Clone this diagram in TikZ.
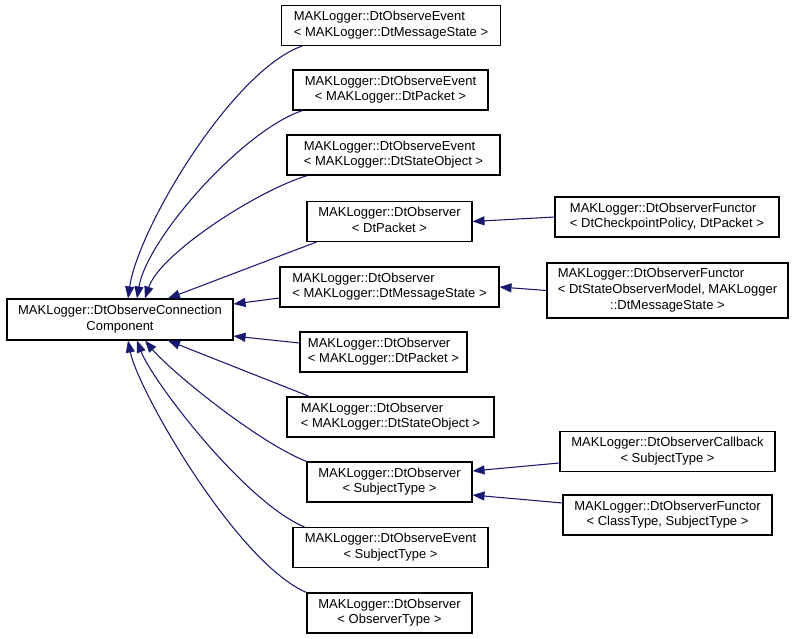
\documentclass[tikz,border=0pt]{standalone}
\usepackage{fontspec}
\setmainfont{Liberation Sans}
\usetikzlibrary{arrows.meta}
\definecolor{edgeblue}{RGB}{25,25,112}
% class name: first lines flush left, last line centred
\newcommand{\clsname}[2]{\begin{tabular}{@{}c@{}}\multicolumn{1}{@{}l@{}}{#1}\\#2\end{tabular}}
\newcommand{\clsnamelong}[3]{\begin{tabular}{@{}c@{}}\multicolumn{1}{@{}l@{}}{#1}\\\multicolumn{1}{@{}l@{}}{#2}\\#3\end{tabular}}

\begin{document}
\begin{tikzpicture}[x=0.75pt, y=-0.75pt,
  font=\fontsize{9.75}{11.75}\selectfont,
  cls/.style={draw, line width=0.8pt, inner sep=0pt, minimum height=30pt},
  inherit/.style={edgeblue, line width=0.8pt, {Triangle[length=9pt, width=6.75pt]}-}]
  \useasboundingbox (0,0) rectangle (797,639);
  % base class
  \node[cls, minimum width=169.5pt, minimum height=30.75pt] (base) at (120,319.5)
        {\clsname{MAKLogger::DtObserveConnection}{Component}};
  % derived classes
  \node[cls, minimum width=164.25pt] (e1) at (391,25.5)
        {\clsname{MAKLogger::DtObserveEvent}{< MAKLogger::DtMessageState >}};
  \node[cls, minimum width=146.25pt] (e2) at (390.5,90)
        {\clsname{MAKLogger::DtObserveEvent}{< MAKLogger::DtPacket >}};
  \node[cls, minimum width=159.75pt] (e3) at (393.5,155)
        {\clsname{MAKLogger::DtObserveEvent}{< MAKLogger::DtStateObject >}};
  \node[cls, minimum width=123.75pt] (o1) at (389.5,221.5)
        {\clsname{MAKLogger::DtObserver}{< DtPacket >}};
  \node[cls, minimum width=164.25pt] (o2) at (389.5,287)
        {\clsname{MAKLogger::DtObserver}{< MAKLogger::DtMessageState >}};
  \node[cls, minimum width=125.25pt] (o3) at (383.5,352)
        {\clsname{MAKLogger::DtObserver}{< MAKLogger::DtPacket >}};
  \node[cls, minimum width=155.25pt] (o4) at (390.5,417)
        {\clsname{MAKLogger::DtObserver}{< MAKLogger::DtStateObject >}};
  \node[cls, minimum width=123.75pt] (o5) at (389.5,482)
        {\clsname{MAKLogger::DtObserver}{< SubjectType >}};
  \node[cls, minimum width=146.25pt] (e4) at (390.5,547.5)
        {\clsname{MAKLogger::DtObserveEvent}{< SubjectType >}};
  \node[cls, minimum width=123.75pt] (o6) at (389.5,613)
        {\clsname{MAKLogger::DtObserver}{< ObserverType >}};
  % third level
  \node[cls, minimum width=168pt] (f1) at (667,217)
        {\clsname{MAKLogger::DtObserverFunctor}{< DtCheckpointPolicy, DtPacket >}};
  \node[cls, minimum width=180.75pt, minimum height=41.25pt] (f2) at (667.5,290.5)
        {\clsnamelong{MAKLogger::DtObserverFunctor}{< DtStateObserverModel, MAKLogger}{::DtMessageState >}};
  \node[cls, minimum width=161.25pt] (cb) at (667.5,451.5)
        {\clsname{MAKLogger::DtObserverCallback}{< SubjectType >}};
  \node[cls, minimum width=156.75pt] (f3) at (667.5,515)
        {\clsname{MAKLogger::DtObserverFunctor}{< ClassType, SubjectType >}};
  % inheritance edges into the base
  \draw[inherit] ([xshift=6pt]base.north) .. controls +(10,-70) and +(-70,25) .. ([xshift=15.75pt]e1.south west);
  \draw[inherit] ([xshift=12.75pt]base.north) .. controls +(10,-60) and +(-60,20) .. ([xshift=7.5pt]e2.south west);
  \draw[inherit] ([xshift=18.75pt]base.north) .. controls +(15,-45) and +(-50,15) .. ([xshift=15.75pt]e3.south west);
  \draw[inherit] ([xshift=36pt]base.north) -- ([xshift=7.5pt]o1.south west);
  \draw[inherit] ([yshift=11.6pt]base.east) -- ([yshift=-8.25pt]o2.west);
  \draw[inherit] ([yshift=-12.4pt]base.east) -- ([yshift=6.75pt]o3.west);
  \draw[inherit] ([xshift=36pt]base.south) -- ([xshift=17.25pt]o4.north west);
  \draw[inherit] ([xshift=18.75pt]base.south) .. controls +(25,30) and +(-50,-20) .. (o5.north west);
  \draw[inherit] ([xshift=12.75pt]base.south) .. controls +(15,40) and +(-60,-25) .. ([xshift=9pt]e4.north west);
  \draw[inherit] ([xshift=6pt]base.south) .. controls +(10,50) and +(-70,-30) .. (o6.north west);
  % edges into the second level
  \draw[inherit] (o1.east) -- (f1.west);
  \draw[inherit] (o2.east) -- (f2.west);
  \draw[inherit] ([yshift=8.25pt]o5.east) -- ([yshift=-8.6pt]cb.west);
  \draw[inherit] ([yshift=-9.75pt]o5.east) -- ([yshift=9pt]f3.west);
\end{tikzpicture}
\end{document}
